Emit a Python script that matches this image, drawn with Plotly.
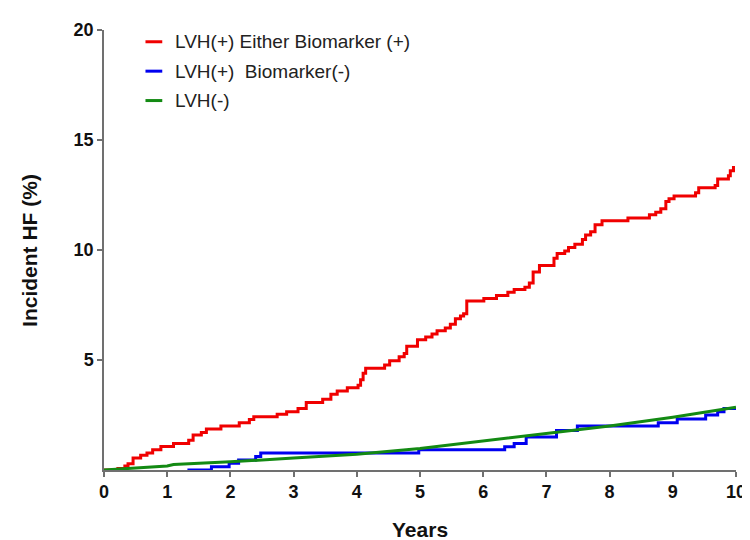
import plotly.graph_objects as go

# ---- data ----
red_years = [0, 0.22, 0.33, 0.38, 0.46, 0.58, 0.68, 0.77, 0.90, 1.10, 1.34, 1.41, 1.54, 1.62, 1.85,
             2.14, 2.30, 2.37, 2.74, 2.89, 3.07, 3.20, 3.46, 3.59, 3.69, 3.85, 4.02, 4.06, 4.10,
             4.14, 4.44, 4.52, 4.67, 4.75, 4.79, 4.96, 5.09, 5.19, 5.27, 5.40, 5.48, 5.56, 5.64,
             5.69, 5.74, 6.01, 6.21, 6.39, 6.49, 6.66, 6.73, 6.79, 6.89, 7.12, 7.17, 7.29, 7.35,
             7.45, 7.57, 7.62, 7.70, 7.77, 7.88, 8.29, 8.63, 8.73, 8.81, 8.89, 8.94, 9.02, 9.36,
             9.41, 9.67, 9.71, 9.88, 9.91, 9.96]
red_hf = [0, 0.07, 0.18, 0.28, 0.55, 0.67, 0.77, 0.92, 1.07, 1.20, 1.35, 1.59, 1.71, 1.86, 2.00,
          2.15, 2.30, 2.42, 2.53, 2.65, 2.80, 3.07, 3.22, 3.44, 3.59, 3.74, 3.85, 4.10, 4.40,
          4.62, 4.77, 4.97, 5.15, 5.30, 5.63, 5.92, 6.04, 6.18, 6.33, 6.46, 6.62, 6.87, 7.00,
          7.10, 7.68, 7.80, 7.93, 8.08, 8.20, 8.31, 8.50, 9.00, 9.30, 9.62, 9.84, 9.96, 10.11,
          10.26, 10.48, 10.68, 10.83, 11.15, 11.33, 11.45, 11.60, 11.72, 11.87, 12.20, 12.33, 12.45, 12.60,
          12.83, 12.93, 13.23, 13.38, 13.60, 13.82]

blue_years = [1.32, 1.70, 1.98, 2.13, 2.40, 2.48, 4.98, 6.34, 6.49, 6.68, 7.16, 7.49, 8.77,
              9.07, 9.52, 9.71, 9.81, 10.0]
blue_hf = [0, 0.15, 0.31, 0.46, 0.61, 0.77, 0.92, 1.06, 1.20, 1.50, 1.80, 2.00, 2.15,
           2.32, 2.50, 2.65, 2.80, 2.80]

green_years = [0, 0.5, 1.0, 1.1, 2.0, 3.0, 4.0, 5.0, 6.0, 7.0, 8.0, 9.0, 10.0]
green_hf = [0, 0.08, 0.18, 0.25, 0.37, 0.55, 0.72, 0.98, 1.31, 1.65, 2.00, 2.40, 2.85]

series_names = ["LVH(+) Either Biomarker (+)", "LVH(+)  Biomarker(-)", "LVH(-)"]
colors = ["#F00000", "#0000F0", "#138A13"]

x_ticks = list(range(0, 11))
y_ticks = [5, 10, 15, 20]

W, H = 750, 540
L, R, T, B = 96, 14, 13, 78
pw, ph = W - L - R, H - T - B

def px2paper(x, y):
    return (x - L) / pw, (H - B - y) / ph

fig = go.Figure()
fig.add_trace(go.Scatter(x=red_years, y=red_hf, mode="lines", line=dict(color=colors[0], width=3, shape="hv"),
                         name=series_names[0], showlegend=False))
fig.add_trace(go.Scatter(x=blue_years, y=blue_hf, mode="lines", line=dict(color=colors[1], width=3, shape="hv"),
                         name=series_names[1], showlegend=False))
fig.add_trace(go.Scatter(x=green_years, y=green_hf, mode="lines", line=dict(color=colors[2], width=3),
                         name=series_names[2], showlegend=False))

tick_font = dict(family="Liberation Sans, Arial", size=18, color="#111", weight="bold")
axis_common = dict(showline=True, linecolor="#707070", linewidth=1.5, ticks="outside", ticklen=5,
                   tickcolor="#707070", tickwidth=1.5, showgrid=False, zeroline=False, tickfont=tick_font)

fig.update_layout(
    width=W, height=H,
    margin=dict(l=L, r=R, t=T, b=B),
    plot_bgcolor="white", paper_bgcolor="white",
    xaxis=dict(range=[0, 10], tickvals=x_ticks, **axis_common),
    yaxis=dict(range=[0, 20], tickvals=y_ticks, **axis_common),
    showlegend=False,
)

# manual legend
leg_y = [25, 55, 85]
for name, col, yy in zip(series_names, colors, leg_y):
    x0, y0 = px2paper(138, yy)
    x1, _ = px2paper(155, yy)
    fig.add_shape(type="line", xref="paper", yref="paper", x0=x0, x1=x1, y0=y0, y1=y0,
                  line=dict(color=col, width=3))
    tx, ty = px2paper(166, yy)
    fig.add_annotation(x=tx, y=ty, xref="paper", yref="paper", text=name, showarrow=False,
                       xanchor="left", yanchor="middle",
                       font=dict(family="Liberation Sans, Arial", size=19, color="#222"))

# axis titles
ax, ay = px2paper(20, (T + H - B) / 2)
fig.add_annotation(x=ax, y=ay, xref="paper", yref="paper", text="<b>Incident HF (%)</b>", showarrow=False,
                   textangle=-90, xanchor="center", yanchor="middle",
                   font=dict(family="Liberation Sans, Arial", size=21, color="#111"))
bx, by = px2paper(L + pw / 2, 523)
fig.add_annotation(x=bx, y=by, xref="paper", yref="paper", text="<b>Years</b>", showarrow=False,
                   xanchor="center", yanchor="middle",
                   font=dict(family="Liberation Sans, Arial", size=21, color="#111"))

fig.write_html("out.html")
